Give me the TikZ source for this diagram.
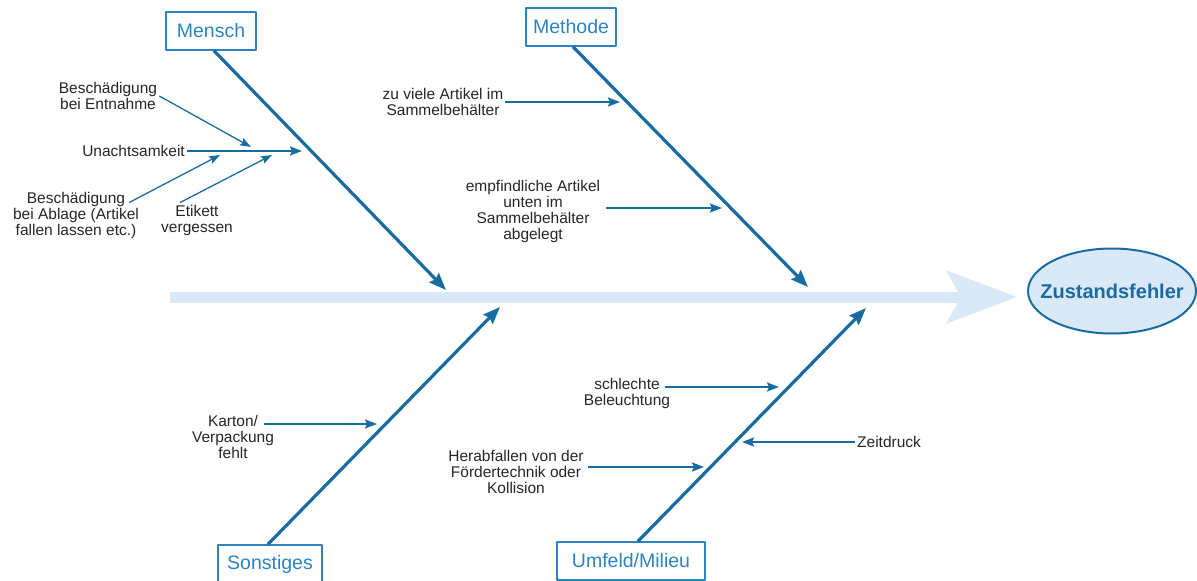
\documentclass[tikz,border=0pt]{standalone}
\usepackage{fontspec}
\setmainfont{Liberation Sans}
\usetikzlibrary{arrows.meta,shapes.geometric,calc}
\definecolor{bone}{RGB}{24,108,162}
\definecolor{boxblue}{RGB}{42,132,192}
\definecolor{spine}{RGB}{218,233,247}
\definecolor{txt}{RGB}{38,38,38}
\begin{document}
\begin{tikzpicture}[x=1pt,y=-1pt,line join=round,>={Stealth[length=12pt,width=9pt,inset=2pt]},
  cat/.style={draw=boxblue,line width=1.5pt,text=boxblue,font=\fontsize{19.5}{22}\selectfont,minimum height=38pt,inner xsep=0pt},
  cause/.style={align=center,text=txt,font=\fontsize{15.5}{16}\selectfont,inner sep=2pt},
  bonearr/.style={->,draw=bone,line width=3.2pt,>={Stealth[length=17pt,width=13pt,inset=2pt]}},
  subarr/.style={->,draw=bone,line width=2pt},
  thinarr/.style={->,draw=bone,line width=1.3pt,>={Stealth[length=11pt,width=8pt,inset=2pt]}}]
\useasboundingbox (0,0) rectangle (1197,581);
\node[cat,minimum width=90pt] (mensch) at (211,31) {Mensch};
\node[cat,minimum width=90pt] (methode) at (571,27) {Methode};
\node[cat,minimum width=104pt] (sonst) at (270,564) {Sonstiges};
\node[cat,minimum width=148pt] (umfeld) at (631,561) {Umfeld/Milieu};
\node[ellipse,draw=bone,line width=2pt,fill=spine,minimum width=168pt,minimum height=85pt,inner sep=0pt,
  label={[text=bone,font=\fontsize{20}{24}\selectfont\bfseries]center:Zustandsfehler}] (zust) at (1112,291) {};
\coordinate (tail) at (170,297);
\draw[line width=11pt,spine,-{Stealth[length=70pt,width=52pt,inset=14pt]},shorten >=10pt] (tail) -- (zust.west |- tail);
\foreach \n/\x/\y in {mt/446/290,tt/808/287,st/500/307,ut/866/308,m0/302/151,m1/251/147,m2/220/155,m3/272/155,t1/620/102,t2/722/208,s1/377/424,u1/779/387,u2/742/441,u3/704/467}{\coordinate (\n) at (\x,\y);}
\draw[bonearr] ([xshift=3pt]mensch.south) -- (mt);
\draw[bonearr] ([xshift=2pt]methode.south) -- (tt);
\draw[bonearr] ([xshift=-2pt]sonst.north) -- (st);
\draw[bonearr] ([xshift=7pt]umfeld.north) -- (ut);
\node[cause] (entn) at (108,96) {Besch\"adigung\\bei Entnahme};
\node[cause,anchor=east] (unacht) at (187,151) {Unachtsamkeit};
\node[cause] (ablage) at (76,215) {Besch\"adigung\\bei Ablage (Artikel\\fallen lassen etc.)};
\node[cause] (etik) at (197,220) {Etikett\\vergessen};
\node[cause] (viele) at (443,102) {zu viele Artikel im\\Sammelbeh\"alter};
\node[cause] (empf) at (533,211) {empfindliche Artikel\\unten im\\Sammelbeh\"alter\\abgelegt};
\node[cause] (karton) at (233,437) {Karton/\\Verpackung\\fehlt};
\node[cause] (licht) at (627,393) {schlechte\\Beleuchtung};
\node[cause] (fall) at (516,472) {Herabfallen von der\\F\"ordertechnik oder\\Kollision};
\node[cause,anchor=west] (zeit) at (855,442) {Zeitdruck};
\draw[subarr] (unacht.east) -- (m0);
\draw[thinarr] (entn.east) -- (m1);
\draw[thinarr] ($(ablage.north east)+(-12,13)$) -- (m2);
\draw[thinarr] ($(etik.north)+(-17,0)$) -- (m3);
\draw[subarr] (viele.east |- t1) -- (t1);
\draw[subarr] ($(empf.east |- t2)+(4,0)$) -- (t2);
\draw[subarr] ($(karton.east |- s1)+(-12,0)$) -- (s1);
\draw[subarr] ($(licht.east |- u1)+(-7,0)$) -- (u1);
\draw[subarr] ($(fall.east |- u3)+(2,0)$) -- (u3);
\draw[subarr] (zeit.west) -- (u2 |- zeit.west);
\end{tikzpicture}
\end{document}
